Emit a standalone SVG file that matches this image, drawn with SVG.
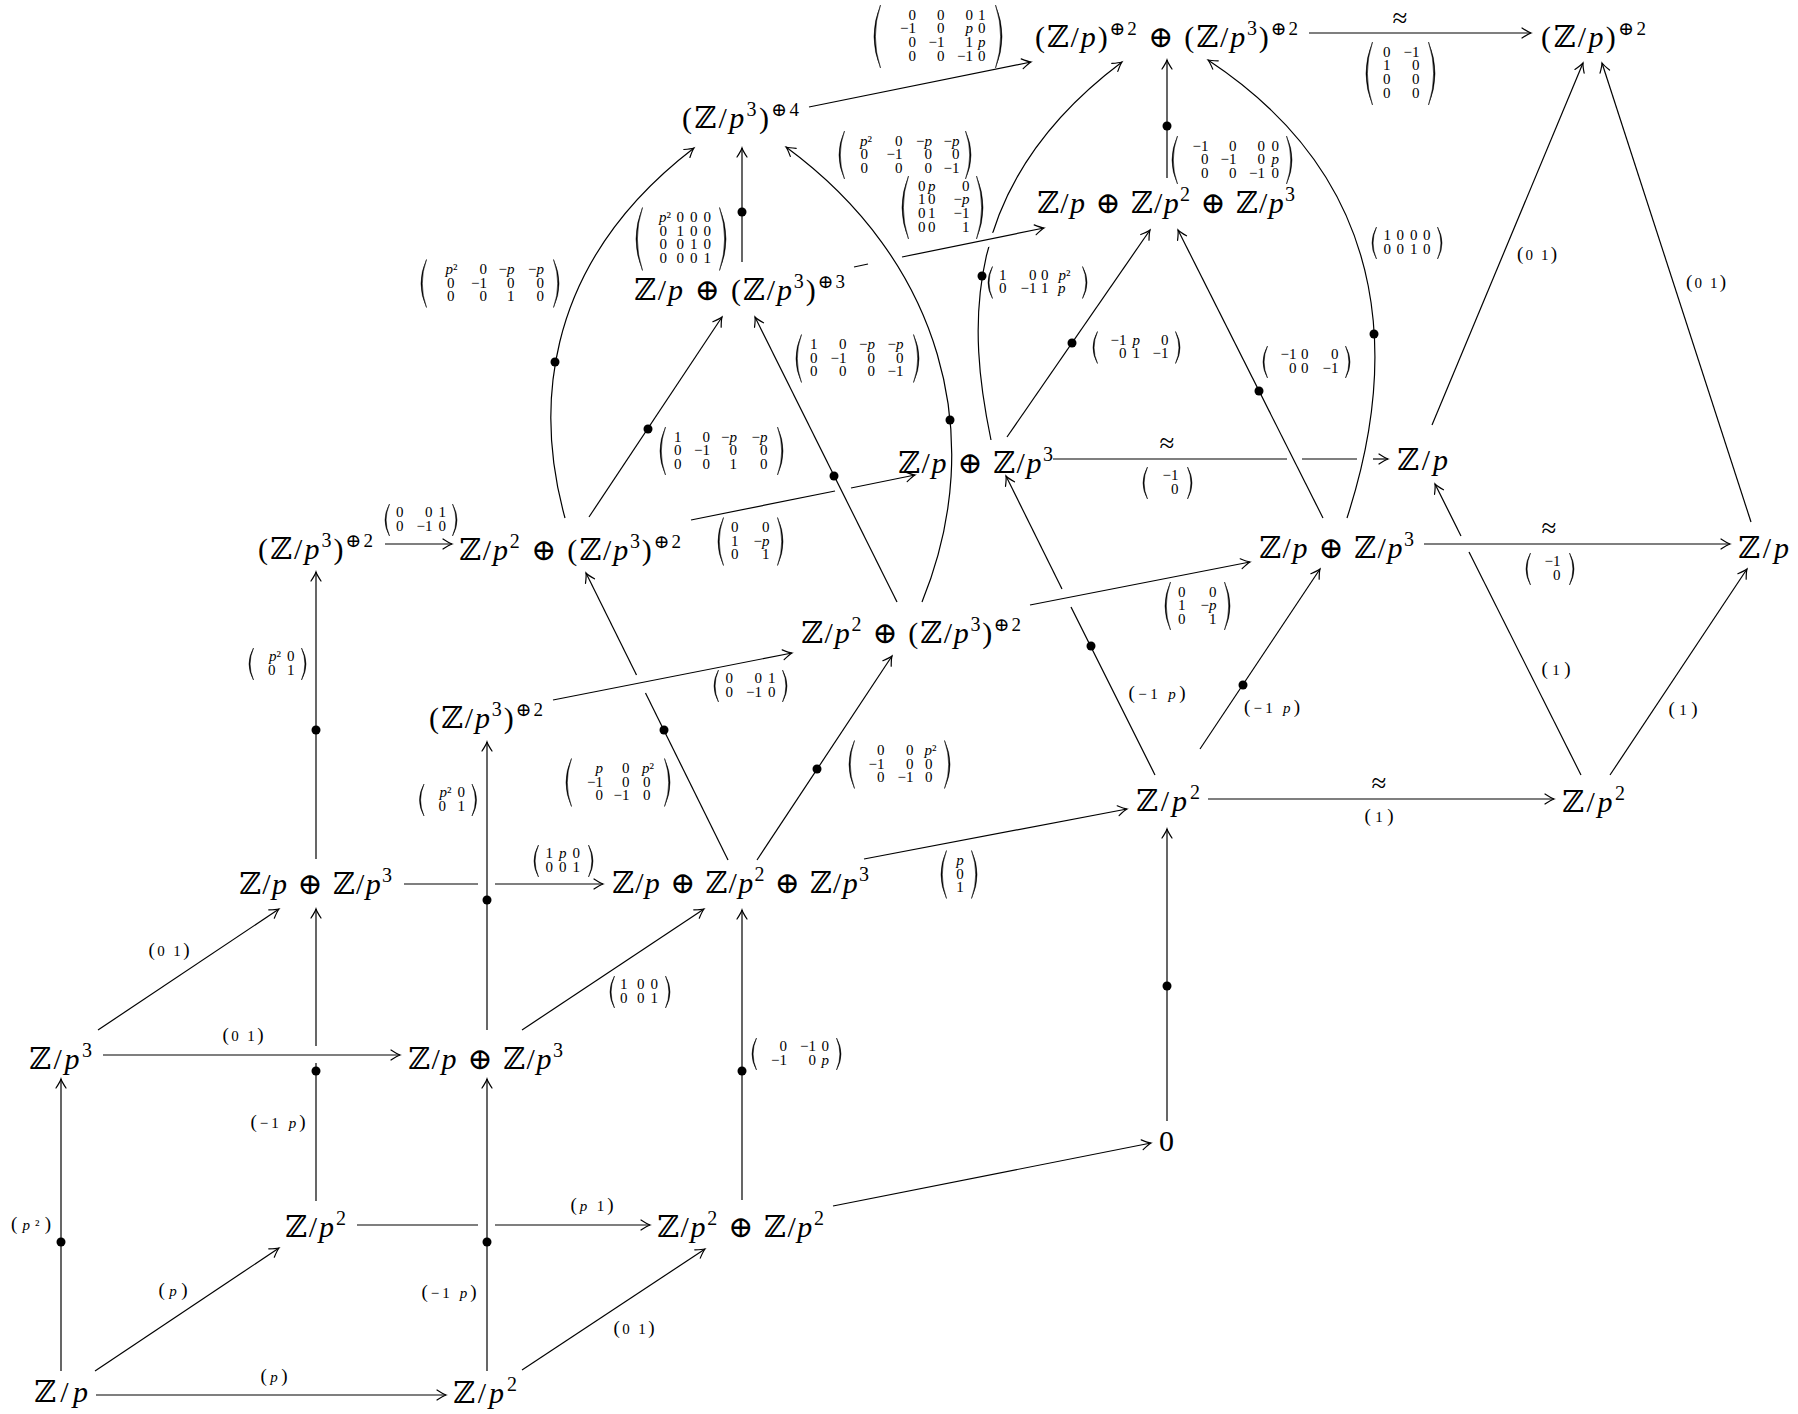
<svg xmlns="http://www.w3.org/2000/svg" width="1798" height="1414" viewBox="0 0 1798 1414">
<style>
text{font-family:'Liberation Serif','DejaVu Serif',serif;fill:#000}
.n{font-size:30px;text-anchor:middle}
.i{font-style:italic}
.sup{font-size:19px}
.sp{font-size:20px}
.m{font-size:15px;text-anchor:end}
.mc{font-size:15px;text-anchor:middle}
.t1{font-size:19px;text-anchor:middle}
.e1{font-size:15px}
.ap{font-size:27px;text-anchor:middle}
.ln{fill:none;stroke:#000;stroke-width:1.2}
.ar{marker-end:url(#ah)}
.ko{fill:none;stroke:#fff;stroke-width:13}
.pr{fill:#000;stroke:#000;stroke-width:0.5}
</style>
<defs>
<marker id="ah" markerUnits="userSpaceOnUse" viewBox="-11 -7 13 14" refX="0" refY="0" markerWidth="13" markerHeight="14" orient="auto" overflow="visible">
<path d="M-9,-5 Q-3,-1 0,0 Q-3,1 -9,5" fill="none" stroke="#000" stroke-width="1.2" stroke-linecap="round"/>
</marker>
<path id="pL2" class="pr" d="M4.5,-16 Q-4.5,0 4.5,16 Q-2.3,0 4.5,-16Z"/>
<path id="pR2" class="pr" d="M-4.5,-16 Q4.5,0 -4.5,16 Q2.3,0 -4.5,-16Z"/>
<path id="pL3" class="pr" d="M5.5,-24 Q-5.5,0 5.5,24 Q-2.9,0 5.5,-24Z"/>
<path id="pR3" class="pr" d="M-5.5,-24 Q5.5,0 -5.5,24 Q2.9,0 -5.5,-24Z"/>
<path id="pL4" class="pr" d="M6.5,-31.5 Q-6.5,0 6.5,31.5 Q-3.7,0 6.5,-31.5Z"/>
<path id="pR4" class="pr" d="M-6.5,-31.5 Q6.5,0 -6.5,31.5 Q3.7,0 -6.5,-31.5Z"/>
</defs>
<rect width="1798" height="1414" fill="#fff"/>

<g id="connectors">
<path class="ln ar" d="M565,518 C538,420 535,270 694,148"/>
<path class="ln ar" d="M922,602 C990,435 940,260 786,147"/>
<path class="ln ar" d="M991,440 C968,330 958,185 1122,62"/>
<path class="ln ar" d="M1347,518 C1392,380 1405,190 1208,60"/>
<path class="ko" d="M977,242.6 L1003,237.4"/>
<path class="ln ar" d="M61,1371 L61,1079"/>
<path class="ln ar" d="M96,1395 L446,1395"/>
<path class="ln ar" d="M95,1371 L279,1248"/>
<path class="ln ar" d="M103,1055 L400,1055"/>
<path class="ln ar" d="M98,1030 L279,909"/>
<path class="ln" d="M316,1201 L316,1063"/>
<path class="ln ar" d="M316,1046 L316,909"/>
<path class="ln" d="M357,1225 L478,1225"/>
<path class="ln ar" d="M495,1225 L650,1225"/>
<path class="ln ar" d="M487,1371 L487,1079"/>
<path class="ln ar" d="M522,1370 L705,1249"/>
<path class="ln ar" d="M522,1030 L704,909"/>
<path class="ln ar" d="M487,1030 L487,742"/>
<path class="ln" d="M404,884 L478,884"/>
<path class="ln ar" d="M495,884 L603,884"/>
<path class="ln ar" d="M742,1200 L742,910"/>
<path class="ln ar" d="M833,1206 L1151,1143"/>
<path class="ln ar" d="M1167,1121 L1167,829"/>
<path class="ln ar" d="M316,859 L316,572"/>
<path class="ln ar" d="M385,544 L452,544"/>
<path class="ln ar" d="M553,700 L792,653"/>
<path class="ln" d="M728,860 L645.5,693"/>
<path class="ln ar" d="M636.5,675 L586,573"/>
<path class="ln ar" d="M757,860 L892,656"/>
<path class="ln ar" d="M864,859 L1127,809"/>
<path class="ln ar" d="M589,517 L722,317"/>
<path class="ln" d="M691,520 L835,491"/>
<path class="ln ar" d="M851,488 L915,475"/>
<path class="ln ar" d="M897,602 L755,317"/>
<path class="ln ar" d="M1030,605 L1250,562"/>
<path class="ln" d="M1155,775 L1071,607"/>
<path class="ln ar" d="M1062,589 L1006,476"/>
<path class="ln ar" d="M1200,749 L1320,569"/>
<path class="ln ar" d="M1208,799 L1554,799"/>
<path class="ln" d="M1581,775 L1469,552"/>
<path class="ln ar" d="M1461,536 L1435,484"/>
<path class="ln ar" d="M1610,775 L1747,569"/>
<path class="ln ar" d="M1424,544 L1730,544"/>
<path class="ln" d="M1053,459 L1287,459"/>
<path class="ln" d="M1302,459 L1357,459"/>
<path class="ln ar" d="M1373,459 L1388,459"/>
<path class="ln ar" d="M1007,437 L1150,230"/>
<path class="ln ar" d="M1323,518 L1178,230"/>
<path class="ln ar" d="M1432,425 L1583,63"/>
<path class="ln ar" d="M1751,522 L1602,63"/>
<path class="ln ar" d="M1309,33 L1531,33"/>
<path class="ln ar" d="M1167,178 L1167,60"/>
<path class="ln ar" d="M809,107 L1031,62"/>
<path class="ln ar" d="M742,262 L742,148"/>
<path class="ln" d="M854,267 L868,264"/>
<path class="ln ar" d="M902,257 L1044,228"/>
<g fill="#000">
<circle cx="61" cy="1242" r="4.5"/><circle cx="316" cy="1071" r="4.5"/><circle cx="487" cy="1242" r="4.5"/>
<circle cx="487" cy="900" r="4.5"/><circle cx="742" cy="1071" r="4.5"/><circle cx="1167" cy="986" r="4.5"/>
<circle cx="316" cy="730" r="4.5"/><circle cx="664" cy="730" r="4.5"/><circle cx="817" cy="769" r="4.5"/>
<circle cx="648" cy="429" r="4.5"/><circle cx="834" cy="476" r="4.5"/><circle cx="1091" cy="646" r="4.5"/>
<circle cx="1243" cy="685" r="4.5"/><circle cx="1072" cy="343" r="4.5"/><circle cx="1259" cy="391" r="4.5"/>
<circle cx="1167" cy="126" r="4.5"/><circle cx="742" cy="212" r="4.5"/><circle cx="555" cy="362" r="4.5"/>
<circle cx="950" cy="420" r="4.5"/><circle cx="982" cy="276" r="4.5"/><circle cx="1374" cy="334" r="4.5"/>
</g>
</g>

<g id="nodes">
<g id="n1"><text class="n" x="61" y="1402" textLength="54" lengthAdjust="spacing">ℤ/<tspan class="i">p</tspan></text></g>
<g id="n2"><text class="n" x="485" y="1403" textLength="64" lengthAdjust="spacing">ℤ/<tspan class="i">p</tspan><tspan class="sp" dy="-12">2</tspan></text></g>
<g id="n3"><text class="n" x="60.5" y="1069" textLength="63" lengthAdjust="spacing">ℤ/<tspan class="i">p</tspan><tspan class="sp" dy="-12">3</tspan></text></g>
<g id="n4"><text class="n" x="485.5" y="1069" textLength="155" lengthAdjust="spacing">ℤ/<tspan class="i">p</tspan> ⊕ ℤ/<tspan class="i">p</tspan><tspan class="sp" dy="-12">3</tspan></text></g>
<g id="n5"><text class="n" x="315.5" y="1237" textLength="61" lengthAdjust="spacing">ℤ/<tspan class="i">p</tspan><tspan class="sp" dy="-12">2</tspan></text></g>
<g id="n6"><text class="n" x="740.5" y="1237" textLength="167" lengthAdjust="spacing">ℤ/<tspan class="i">p</tspan><tspan class="sp" dy="-12">2</tspan><tspan dy="12"> ⊕ ℤ/</tspan><tspan class="i">p</tspan><tspan class="sp" dy="-12">2</tspan></text></g>
<g id="n7"><text class="n" x="1166.5" y="1151">0</text></g>
<g id="n8"><text class="n" x="315.5" y="894" textLength="153" lengthAdjust="spacing">ℤ/<tspan class="i">p</tspan> ⊕ ℤ/<tspan class="i">p</tspan><tspan class="sp" dy="-12">3</tspan></text></g>
<g id="n9"><text class="n" x="486" y="728" textLength="114" lengthAdjust="spacing">(ℤ/<tspan class="i">p</tspan><tspan class="sp" dy="-12">3</tspan><tspan dy="12">)</tspan><tspan class="sup" dy="-12">⊕2</tspan></text></g>
<g id="n10"><text class="n" x="740.5" y="893" textLength="257" lengthAdjust="spacing">ℤ/<tspan class="i">p</tspan> ⊕ ℤ/<tspan class="i">p</tspan><tspan class="sp" dy="-12">2</tspan><tspan dy="12"> ⊕ ℤ/</tspan><tspan class="i">p</tspan><tspan class="sp" dy="-12">3</tspan></text></g>
<g id="n11"><text class="n" x="315.5" y="559" textLength="115" lengthAdjust="spacing">(ℤ/<tspan class="i">p</tspan><tspan class="sp" dy="-12">3</tspan><tspan dy="12">)</tspan><tspan class="sup" dy="-12">⊕2</tspan></text></g>
<g id="n12"><text class="n" x="570" y="560" textLength="222" lengthAdjust="spacing">ℤ/<tspan class="i">p</tspan><tspan class="sp" dy="-12">2</tspan><tspan dy="12"> ⊕ (ℤ/</tspan><tspan class="i">p</tspan><tspan class="sp" dy="-12">3</tspan><tspan dy="12">)</tspan><tspan class="sup" dy="-12">⊕2</tspan></text></g>
<g id="n13"><text class="n" x="911" y="643" textLength="220" lengthAdjust="spacing">ℤ/<tspan class="i">p</tspan><tspan class="sp" dy="-12">2</tspan><tspan dy="12"> ⊕ (ℤ/</tspan><tspan class="i">p</tspan><tspan class="sp" dy="-12">3</tspan><tspan dy="12">)</tspan><tspan class="sup" dy="-12">⊕2</tspan></text></g>
<g id="n14"><text class="n" x="1168" y="811" textLength="64" lengthAdjust="spacing">ℤ/<tspan class="i">p</tspan><tspan class="sp" dy="-12">2</tspan></text></g>
<g id="n15"><text class="n" x="975.5" y="473" textLength="155" lengthAdjust="spacing">ℤ/<tspan class="i">p</tspan> ⊕ ℤ/<tspan class="i">p</tspan><tspan class="sp" dy="-12">3</tspan></text></g>
<g id="n16"><text class="n" x="739.5" y="300" textLength="211" lengthAdjust="spacing">ℤ/<tspan class="i">p</tspan> ⊕ (ℤ/<tspan class="i">p</tspan><tspan class="sp" dy="-12">3</tspan><tspan dy="12">)</tspan><tspan class="sup" dy="-12">⊕3</tspan></text></g>
<g id="n17"><text class="n" x="740.5" y="128" textLength="117" lengthAdjust="spacing">(ℤ/<tspan class="i">p</tspan><tspan class="sp" dy="-12">3</tspan><tspan dy="12">)</tspan><tspan class="sup" dy="-12">⊕4</tspan></text></g>
<g id="n18"><text class="n" x="1166" y="213" textLength="258" lengthAdjust="spacing">ℤ/<tspan class="i">p</tspan> ⊕ ℤ/<tspan class="i">p</tspan><tspan class="sp" dy="-12">2</tspan><tspan dy="12"> ⊕ ℤ/</tspan><tspan class="i">p</tspan><tspan class="sp" dy="-12">3</tspan></text></g>
<g id="n19"><text class="n" x="1166.5" y="47" textLength="263" lengthAdjust="spacing">(ℤ/<tspan class="i">p</tspan>)<tspan class="sup" dy="-12">⊕2</tspan><tspan dy="12"> ⊕ (ℤ/</tspan><tspan class="i">p</tspan><tspan class="sp" dy="-12">3</tspan><tspan dy="12">)</tspan><tspan class="sup" dy="-12">⊕2</tspan></text></g>
<g id="n20"><text class="n" x="1593.5" y="47" textLength="105" lengthAdjust="spacing">(ℤ/<tspan class="i">p</tspan>)<tspan class="sup" dy="-12">⊕2</tspan></text></g>
<g id="n21"><text class="n" x="1422.5" y="470" textLength="51" lengthAdjust="spacing">ℤ/<tspan class="i">p</tspan></text></g>
<g id="n22"><text class="n" x="1336.5" y="558" textLength="155" lengthAdjust="spacing">ℤ/<tspan class="i">p</tspan> ⊕ ℤ/<tspan class="i">p</tspan><tspan class="sp" dy="-12">3</tspan></text></g>
<g id="n23"><text class="n" x="1763.5" y="558" textLength="51" lengthAdjust="spacing">ℤ/<tspan class="i">p</tspan></text></g>
<g id="n24"><text class="n" x="1593.5" y="812" textLength="63" lengthAdjust="spacing">ℤ/<tspan class="i">p</tspan><tspan class="sp" dy="-12">2</tspan></text></g>
</g>

<g id="labels">
<text class="t1" x="31" y="1230" textLength="40" lengthAdjust="spacing">(<tspan class="e1"><tspan class="i">p</tspan>²</tspan>)</text>
<text class="t1" x="274" y="1382" textLength="27" lengthAdjust="spacing">(<tspan class="e1 i">p</tspan>)</text>
<text class="t1" x="173" y="1296" textLength="29" lengthAdjust="spacing">(<tspan class="e1 i">p</tspan>)</text>
<text class="t1" x="243" y="1041" textLength="41" lengthAdjust="spacing">(<tspan class="e1">0 1</tspan>)</text>
<text class="t1" x="169" y="956" textLength="41" lengthAdjust="spacing">(<tspan class="e1">0 1</tspan>)</text>
<text class="t1" x="278" y="1128" textLength="55" lengthAdjust="spacing">(<tspan class="e1">−1 <tspan class="i">p</tspan></tspan>)</text>
<text class="t1" x="592" y="1211" textLength="43" lengthAdjust="spacing">(<tspan class="e1"><tspan class="i">p</tspan> 1</tspan>)</text>
<text class="t1" x="449" y="1298" textLength="55" lengthAdjust="spacing">(<tspan class="e1">−1 <tspan class="i">p</tspan></tspan>)</text>
<text class="t1" x="634" y="1334" textLength="41" lengthAdjust="spacing">(<tspan class="e1">0 1</tspan>)</text>
<text class="t1" x="1157" y="699" textLength="57" lengthAdjust="spacing">(<tspan class="e1">−1 <tspan class="i">p</tspan></tspan>)</text>
<text class="t1" x="1272" y="713" textLength="56" lengthAdjust="spacing">(<tspan class="e1">−1 <tspan class="i">p</tspan></tspan>)</text>
<text class="t1" x="1379" y="822" textLength="29" lengthAdjust="spacing">(<tspan class="e1">1</tspan>)</text>
<text class="t1" x="1556" y="675" textLength="29" lengthAdjust="spacing">(<tspan class="e1">1</tspan>)</text>
<text class="t1" x="1683" y="715" textLength="29" lengthAdjust="spacing">(<tspan class="e1">1</tspan>)</text>
<text class="t1" x="1537" y="260" textLength="40" lengthAdjust="spacing">(<tspan class="e1">0 1</tspan>)</text>
<text class="t1" x="1706" y="288" textLength="40" lengthAdjust="spacing">(<tspan class="e1">0 1</tspan>)</text>
<text class="ap" x="1379" y="792">≈</text>
<text class="ap" x="1549" y="537">≈</text>
<text class="ap" x="1167" y="452">≈</text>
<text class="ap" x="1400" y="27">≈</text>

<g transform="translate(640,992)"><use href="#pL2" x="-30"/><use href="#pR2" x="30"/>
<text class="m" y="-3"><tspan x="-12.5">1</tspan><tspan x="4.5">0</tspan><tspan x="18">0</tspan></text>
<text class="m" y="10.5"><tspan x="-12.5">0</tspan><tspan x="4.5">0</tspan><tspan x="18">1</tspan></text></g>

<g transform="translate(448,800)"><use href="#pL2" x="-28.5"/><use href="#pR2" x="28.5"/>
<text class="m" y="-3"><tspan x="3.5" class="i">p</tspan><tspan>²</tspan><tspan x="17">0</tspan></text>
<text class="m" y="10.5"><tspan x="-2">0</tspan><tspan x="17">1</tspan></text></g>

<g transform="translate(277.5,664)"><use href="#pL2" x="-28.5"/><use href="#pR2" x="28.5"/>
<text class="m" y="-3"><tspan x="3.5" class="i">p</tspan><tspan>²</tspan><tspan x="17">0</tspan></text>
<text class="m" y="10.5"><tspan x="-2">0</tspan><tspan x="17">1</tspan></text></g>

<g transform="translate(563.5,861)"><use href="#pL2" x="-29.5"/><use href="#pR2" x="29.5"/>
<text class="m" y="-3"><tspan x="-10.5">1</tspan><tspan x="3" class="i">p</tspan><tspan x="16.5">0</tspan></text>
<text class="m" y="10.5"><tspan x="-10.5">0</tspan><tspan x="3">0</tspan><tspan x="16.5">1</tspan></text></g>

<g transform="translate(796.5,1054)"><use href="#pL2" x="-44.5"/><use href="#pR2" x="44.5"/>
<text class="m" y="-3"><tspan x="-9.5">0</tspan><tspan x="19.5">−1</tspan><tspan x="32.5">0</tspan></text>
<text class="m" y="10.5"><tspan x="-9.5">−1</tspan><tspan x="19.5">0</tspan><tspan x="32.5" class="i">p</tspan></text></g>

<g transform="translate(421,520)"><use href="#pL2" x="-36"/><use href="#pR2" x="36"/>
<text class="m" y="-3"><tspan x="-17.5">0</tspan><tspan x="11.5">0</tspan><tspan x="25">1</tspan></text>
<text class="m" y="10.5"><tspan x="-17.5">0</tspan><tspan x="11.5">−1</tspan><tspan x="25">0</tspan></text></g>

<g transform="translate(750.5,686)"><use href="#pL2" x="-36.5"/><use href="#pR2" x="36.5"/>
<text class="m" y="-3"><tspan x="-17.5">0</tspan><tspan x="11.5">0</tspan><tspan x="25">1</tspan></text>
<text class="m" y="10.5"><tspan x="-17.5">0</tspan><tspan x="11.5">−1</tspan><tspan x="25">0</tspan></text></g>

<g transform="translate(618,782.5)"><use href="#pL3" x="-52"/><use href="#pR3" x="52"/>
<text class="m" y="-9.5"><tspan x="-15" class="i">p</tspan><tspan x="11.5">0</tspan><tspan x="36" class="i">p</tspan><tspan>²</tspan></text>
<text class="m" y="4"><tspan x="-15">−1</tspan><tspan x="11.5">0</tspan><tspan x="32.5">0</tspan></text>
<text class="m" y="17.5"><tspan x="-15">0</tspan><tspan x="11.5">−1</tspan><tspan x="32.5">0</tspan></text></g>

<g transform="translate(899.5,764.5)"><use href="#pL3" x="-50.5"/><use href="#pR3" x="50.5"/>
<text class="m" y="-9.5"><tspan x="-15">0</tspan><tspan x="14">0</tspan><tspan x="37" class="i">p</tspan><tspan>²</tspan></text>
<text class="m" y="4"><tspan x="-15">−1</tspan><tspan x="14">0</tspan><tspan x="33">0</tspan></text>
<text class="m" y="17.5"><tspan x="-15">0</tspan><tspan x="14">−1</tspan><tspan x="33">0</tspan></text></g>

<g transform="translate(959,874.5)"><use href="#pL3" x="-18"/><use href="#pR3" x="18"/>
<text class="mc" x="1" y="-9.5" font-style="italic">p</text>
<text class="mc" x="1" y="4">0</text>
<text class="mc" x="1" y="17.5">1</text></g>

<g transform="translate(721.5,451)"><use href="#pL3" x="-61.5"/><use href="#pR3" x="61.5"/>
<text class="m" y="-9.5"><tspan x="-40">1</tspan><tspan x="-11.5">0</tspan><tspan x="15.5">−</tspan><tspan class="i">p</tspan><tspan x="46">−</tspan><tspan class="i">p</tspan></text>
<text class="m" y="4"><tspan x="-40">0</tspan><tspan x="-11.5">−1</tspan><tspan x="15.5">0</tspan><tspan x="46">0</tspan></text>
<text class="m" y="17.5"><tspan x="-40">0</tspan><tspan x="-11.5">0</tspan><tspan x="15.5">1</tspan><tspan x="46">0</tspan></text></g>

<g transform="translate(750.5,541.5)"><use href="#pL3" x="-32.5"/><use href="#pR3" x="32.5"/>
<text class="m" y="-9.5"><tspan x="-12">0</tspan><tspan x="19">0</tspan></text>
<text class="m" y="4"><tspan x="-12">1</tspan><tspan x="19">−</tspan><tspan class="i">p</tspan></text>
<text class="m" y="17.5"><tspan x="-12">0</tspan><tspan x="19">1</tspan></text></g>

<g transform="translate(857.5,358.5)"><use href="#pL3" x="-61.5"/><use href="#pR3" x="61.5"/>
<text class="m" y="-9.5"><tspan x="-40">1</tspan><tspan x="-11">0</tspan><tspan x="17.5">−</tspan><tspan class="i">p</tspan><tspan x="46">−</tspan><tspan class="i">p</tspan></text>
<text class="m" y="4"><tspan x="-40">0</tspan><tspan x="-11">−1</tspan><tspan x="17.5">0</tspan><tspan x="46">0</tspan></text>
<text class="m" y="17.5"><tspan x="-40">0</tspan><tspan x="-11">0</tspan><tspan x="17.5">0</tspan><tspan x="46">−1</tspan></text></g>

<g transform="translate(1197.5,606)"><use href="#pL3" x="-32.5"/><use href="#pR3" x="32.5"/>
<text class="m" y="-9.5"><tspan x="-12">0</tspan><tspan x="19">0</tspan></text>
<text class="m" y="4"><tspan x="-12">1</tspan><tspan x="19">−</tspan><tspan class="i">p</tspan></text>
<text class="m" y="17.5"><tspan x="-12">0</tspan><tspan x="19">1</tspan></text></g>

<g transform="translate(1136.5,347.5)"><use href="#pL2" x="-43.5"/><use href="#pR2" x="43.5"/>
<text class="m" y="-3"><tspan x="-10">−1</tspan><tspan x="3.5" class="i">p</tspan><tspan x="32">0</tspan></text>
<text class="m" y="10.5"><tspan x="-10">0</tspan><tspan x="3.5">1</tspan><tspan x="32">−1</tspan></text></g>

<g transform="translate(1306.5,362)"><use href="#pL2" x="-43.5"/><use href="#pR2" x="43.5"/>
<text class="m" y="-3"><tspan x="-10">−1</tspan><tspan x="2">0</tspan><tspan x="32">0</tspan></text>
<text class="m" y="10.5"><tspan x="-10">0</tspan><tspan x="2">0</tspan><tspan x="32">−1</tspan></text></g>

<g transform="translate(1232,160)"><use href="#pL3" x="-60"/><use href="#pR3" x="60"/>
<text class="m" y="-9.5"><tspan x="-23.5">−1</tspan><tspan x="4.5">0</tspan><tspan x="33">0</tspan><tspan x="47">0</tspan></text>
<text class="m" y="4"><tspan x="-23.5">0</tspan><tspan x="4.5">−1</tspan><tspan x="33">0</tspan><tspan x="47" class="i">p</tspan></text>
<text class="m" y="17.5"><tspan x="-23.5">0</tspan><tspan x="4.5">0</tspan><tspan x="33">−1</tspan><tspan x="47">0</tspan></text></g>

<g transform="translate(938,36.5)"><use href="#pL4" x="-64"/><use href="#pR4" x="64"/>
<text class="m" y="-17"><tspan x="-22">0</tspan><tspan x="6.5">0</tspan><tspan x="35">0</tspan><tspan x="47.5">1</tspan></text>
<text class="m" y="-3.3"><tspan x="-22">−1</tspan><tspan x="6.5">0</tspan><tspan x="35" class="i">p</tspan><tspan x="47.5">0</tspan></text>
<text class="m" y="10.4"><tspan x="-22">0</tspan><tspan x="6.5">−1</tspan><tspan x="35">1</tspan><tspan x="47.5" class="i">p</tspan></text>
<text class="m" y="24"><tspan x="-22">0</tspan><tspan x="6.5">0</tspan><tspan x="35">−1</tspan><tspan x="47.5">0</tspan></text></g>

<g transform="translate(681,239)"><use href="#pL4" x="-45"/><use href="#pR4" x="45"/>
<text class="m" y="-17"><tspan x="-10" class="i">p</tspan><tspan>²</tspan><tspan x="3">0</tspan><tspan x="16.5">0</tspan><tspan x="30">0</tspan></text>
<text class="m" y="-3.3"><tspan x="-14">0</tspan><tspan x="3">1</tspan><tspan x="16.5">0</tspan><tspan x="30">0</tspan></text>
<text class="m" y="10.4"><tspan x="-14">0</tspan><tspan x="3">0</tspan><tspan x="16.5">1</tspan><tspan x="30">0</tspan></text>
<text class="m" y="24"><tspan x="-14">0</tspan><tspan x="3">0</tspan><tspan x="16.5">0</tspan><tspan x="30">1</tspan></text></g>

<g transform="translate(942.5,207.5)"><use href="#pL4" x="-40.5"/><use href="#pR4" x="40.5"/>
<text class="m" y="-17"><tspan x="-17">0</tspan><tspan x="-7" class="i">p</tspan><tspan x="27">0</tspan></text>
<text class="m" y="-3.3"><tspan x="-17">1</tspan><tspan x="-7">0</tspan><tspan x="27">−</tspan><tspan class="i">p</tspan></text>
<text class="m" y="10.4"><tspan x="-17">0</tspan><tspan x="-7">1</tspan><tspan x="27">−1</tspan></text>
<text class="m" y="24"><tspan x="-17">0</tspan><tspan x="-7">0</tspan><tspan x="27">1</tspan></text></g>

<g transform="translate(490,283.5)"><use href="#pL3" x="-69"/><use href="#pR3" x="69"/>
<text class="m" y="-9.5"><tspan x="-32.5" class="i">p</tspan><tspan>²</tspan><tspan x="-3">0</tspan><tspan x="24.5">−</tspan><tspan class="i">p</tspan><tspan x="54">−</tspan><tspan class="i">p</tspan></text>
<text class="m" y="4"><tspan x="-35.5">0</tspan><tspan x="-3">−1</tspan><tspan x="24.5">0</tspan><tspan x="54">0</tspan></text>
<text class="m" y="17.5"><tspan x="-35.5">0</tspan><tspan x="-3">0</tspan><tspan x="24.5">1</tspan><tspan x="54">0</tspan></text></g>

<g transform="translate(905,155)"><use href="#pL3" x="-66"/><use href="#pR3" x="66"/>
<text class="m" y="-9.5"><tspan x="-33" class="i">p</tspan><tspan>²</tspan><tspan x="-2.5">0</tspan><tspan x="27">−</tspan><tspan class="i">p</tspan><tspan x="54.5">−</tspan><tspan class="i">p</tspan></text>
<text class="m" y="4"><tspan x="-37">0</tspan><tspan x="-2.5">−1</tspan><tspan x="27">0</tspan><tspan x="54.5">0</tspan></text>
<text class="m" y="17.5"><tspan x="-37">0</tspan><tspan x="-2.5">0</tspan><tspan x="27">0</tspan><tspan x="54.5">−1</tspan></text></g>

<g transform="translate(1037.5,282.5)"><use href="#pL2" x="-49.5"/><use href="#pR2" x="49.5"/>
<text class="m" y="-3"><tspan x="-31">1</tspan><tspan x="-1">0</tspan><tspan x="11">0</tspan><tspan x="33" class="i">p</tspan><tspan>²</tspan></text>
<text class="m" y="10.5"><tspan x="-31">0</tspan><tspan x="-1">−1</tspan><tspan x="11">1</tspan><tspan x="28" class="i">p</tspan></text></g>

<g transform="translate(1407,243)"><use href="#pL2" x="-35"/><use href="#pR2" x="35"/>
<text class="m" y="-3"><tspan x="-16">1</tspan><tspan x="-3">0</tspan><tspan x="10.5">0</tspan><tspan x="23.5">0</tspan></text>
<text class="m" y="10.5"><tspan x="-16">0</tspan><tspan x="-3">0</tspan><tspan x="10.5">1</tspan><tspan x="23.5">0</tspan></text></g>

<g transform="translate(1400.5,73.5)"><use href="#pL4" x="-34.5"/><use href="#pR4" x="34.5"/>
<text class="m" y="-17"><tspan x="-10">0</tspan><tspan x="19">−1</tspan></text>
<text class="m" y="-3.3"><tspan x="-10">1</tspan><tspan x="19">0</tspan></text>
<text class="m" y="10.4"><tspan x="-10">0</tspan><tspan x="19">0</tspan></text>
<text class="m" y="24"><tspan x="-10">0</tspan><tspan x="19">0</tspan></text></g>

<g transform="translate(1550,569)"><use href="#pL2" x="-24"/><use href="#pR2" x="24"/>
<text class="m" y="-3"><tspan x="10.5">−1</tspan></text>
<text class="m" y="10.5"><tspan x="10.5">0</tspan></text></g>

<g transform="translate(1167.5,483)"><use href="#pL2" x="-24.5"/><use href="#pR2" x="24.5"/>
<text class="m" y="-3"><tspan x="11">−1</tspan></text>
<text class="m" y="10.5"><tspan x="11">0</tspan></text></g>
</g>
</svg>
